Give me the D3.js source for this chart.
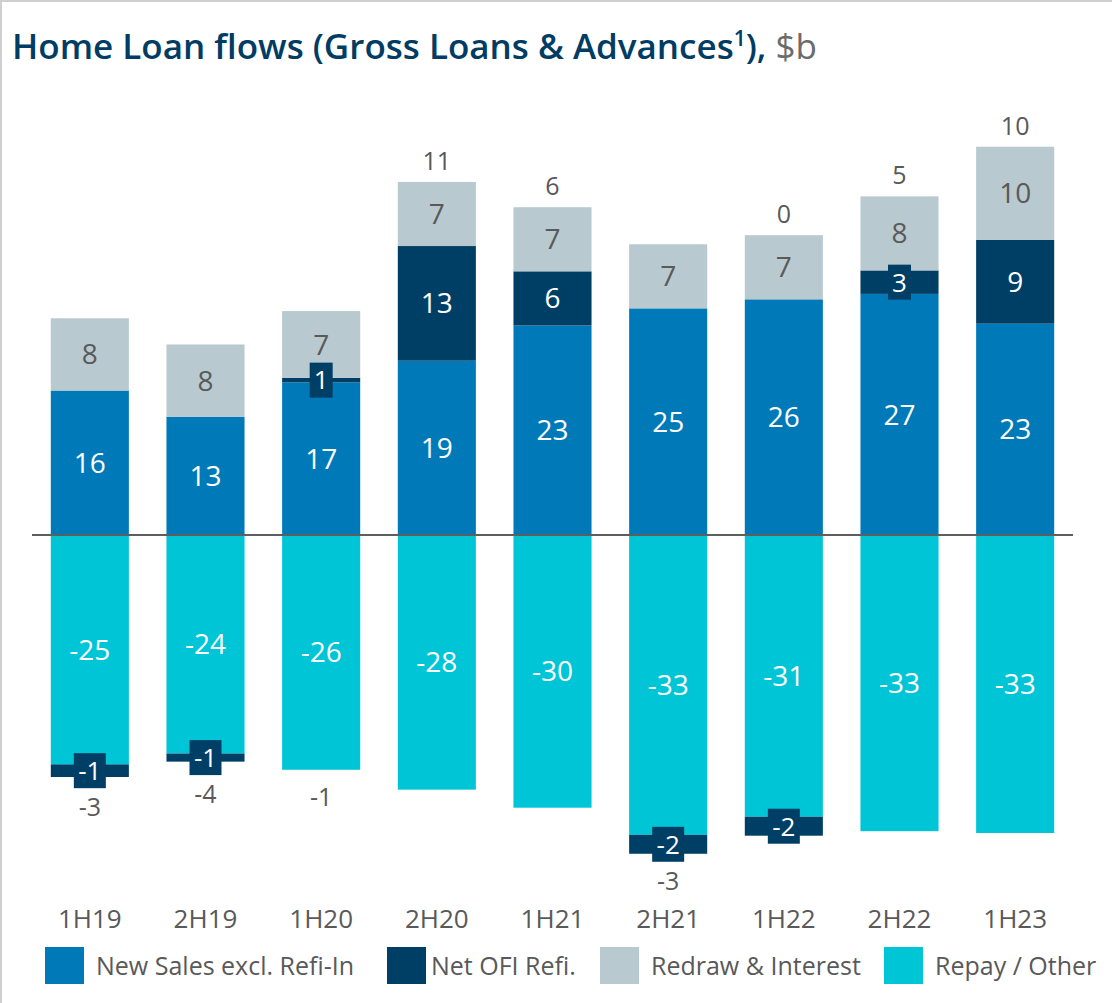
<!DOCTYPE html>
<html>
<head>
<meta charset="utf-8">
<script src="https://cdn.jsdelivr.net/npm/d3@7"></script>
<style>
  html, body { margin: 0; padding: 0; background: #fff; }
  svg { display: block; font-family: "Open Sans", "Noto Sans", sans-serif; }
</style>
</head>
<body>
<div class="canvas"></div>
<script>
// data ($b)
const periods = ['1H19', '2H19', '1H20', '2H20', '1H21', '2H21', '1H22', '2H22', '1H23'];
const newSales = [16.0, 13.1, 16.9, 19.3, 23.2, 25.1, 26.1, 26.7, 23.4];
const netOfiRefi = [-1.4, -0.9, 0.5, 12.7, 6.0, -2.1, -2.1, 2.6, 9.3];
const redrawInterest = [8.0, 8.0, 7.4, 7.1, 7.1, 7.1, 7.1, 8.2, 10.3];
const repayOther = [-25.4, -24.2, -26.0, -28.2, -30.2, -33.2, -31.2, -32.8, -33.0];
const legendLabels = ['New Sales excl. Refi-In', 'Net OFI Refi.', 'Redraw & Interest', 'Repay / Other'];

const colours = {
  newSales: '#0079b9',
  ofi: '#003f65',
  redraw: '#b9c9d0',
  repay: '#00c5d7'
};
const grey = '#595959';

const width = 1112, height = 1003;

// select the svg container first
const svg = d3.select('.canvas')
  .append('svg')
    .attr('width', width)
    .attr('height', height);

// light frame at top and left like the slide crop
svg.append('line').attr('x1', 0).attr('x2', width).attr('y1', 1).attr('y2', 1)
  .attr('stroke', '#cfcfcf').attr('stroke-width', 2);
svg.append('line').attr('x1', 1).attr('x2', 1).attr('y1', 0).attr('y2', height)
  .attr('stroke', '#cfcfcf').attr('stroke-width', 2);

// title
const title = svg.append('text')
  .attr('x', 12)
  .attr('y', 59)
  .attr('font-size', 35)
  .attr('font-weight', 600)
  .attr('fill', '#003c63');
title.append('tspan').text('Home Loan flows (Gross Loans & Advances');
title.append('tspan').attr('font-size', 21).attr('dy', -13).text('1');
title.append('tspan').attr('dy', 13).text('),');
title.append('tspan').attr('font-weight', 400).attr('fill', '#6b6b6b').text(' $b');

// table for the stack
const rows = periods.map((p, i) => ({
  period: p,
  newSales: newSales[i],
  repay: repayOther[i],
  ofi: netOfiRefi[i],
  redraw: redrawInterest[i]
}));

// repay sits next to zero below, so it goes before ofi in the key order
const keys = ['newSales', 'repay', 'ofi', 'redraw'];
const series = d3.stack()
  .keys(keys)
  .offset(d3.stackOffsetDiverging)(rows);

// scales
const x = d3.scaleBand()
  .domain(periods)
  .range([32, 1073])
  .paddingInner(0.325)
  .paddingOuter(0.1625);

const pxPerUnit = 9.03;
const y = d3.scaleLinear()
  .domain([-40, 45])
  .range([535 + 40 * pxPerUnit, 535 - 45 * pxPerUnit]);

const graph = svg.append('g');

// bars
const layers = graph.selectAll('g.layer')
  .data(series)
  .enter()
  .append('g')
    .attr('class', 'layer')
    .attr('fill', d => colours[d.key]);

layers.selectAll('rect')
  .data(d => d.map(v => ({ key: d.key, lo: v[0], hi: v[1], period: v.data.period, value: v.data[d.key] })))
  .enter()
  .append('rect')
    .attr('x', d => x(d.period))
    .attr('width', x.bandwidth())
    .attr('y', d => y(Math.max(d.lo, d.hi)))
    .attr('height', d => Math.abs(y(d.lo) - y(d.hi)));

// zero line on top of bars
svg.append('line')
  .attr('x1', 32).attr('x2', 1073)
  .attr('y1', y(0)).attr('y2', y(0))
  .attr('stroke', '#5e5e5e')
  .attr('stroke-width', 2);

// segment labels
const segs = [];
series.forEach(s => {
  s.forEach(v => {
    const value = v.data[s.key];
    if (value === 0) return;
    segs.push({ key: s.key, period: v.data.period, value, mid: (y(v[0]) + y(v[1])) / 2 });
  });
});

// remember where the small label boxes end so totals can sit below them
const boxBottom = {};
const labels = svg.append('g').attr('text-anchor', 'middle');
segs.forEach(d => {
  const cx = x(d.period) + x.bandwidth() / 2;
  const txt = String(Math.round(d.value));
  const small = Math.abs(d.value) < 3.5;
  if (small) {
    const bw = txt.length > 1 ? 32 : 23;
    labels.append('rect')
      .attr('x', cx - bw / 2)
      .attr('y', d.mid - 17.5)
      .attr('width', bw)
      .attr('height', 35)
      .attr('fill', colours.ofi);
    if (d.value < 0) boxBottom[d.period] = d.mid + 17.5;
  }
  labels.append('text')
    .attr('x', cx)
    .attr('y', d.mid)
    .attr('dy', '0.36em')
    .attr('font-size', small ? 26 : 28)
    .attr('fill', d.key === 'redraw' ? grey : '#fff')
    .text(txt);
});

// net totals above or below each bar
rows.forEach(r => {
  const net = Math.round(r.newSales + r.ofi + r.redraw + r.repay);
  const top = r.newSales + Math.max(r.ofi, 0) + r.redraw;
  const bottom = r.repay + Math.min(r.ofi, 0);
  const cx = x(r.period) + x.bandwidth() / 2;
  let ty;
  if (net >= 0) {
    ty = y(top) - 12;
  } else {
    ty = y(bottom) + 36;
    if (boxBottom[r.period]) ty = Math.max(ty, boxBottom[r.period] + 28);
  }
  labels.append('text')
    .attr('x', cx)
    .attr('y', ty)
    .attr('font-size', 25)
    .attr('fill', grey)
    .text(String(net).replace('-0', '0'));
});

// x axis labels
const xAxis = d3.axisBottom(x).tickSize(0).tickPadding(0);
const xAxisGroup = svg.append('g')
  .attr('transform', 'translate(0, 910)')
  .call(xAxis);
xAxisGroup.select('.domain').remove();
xAxisGroup.selectAll('text')
  .attr('font-size', 26)
  .attr('font-family', '"Open Sans", "Noto Sans", sans-serif')
  .attr('fill', grey);

// legend
const legendX = [45, 387, 600, 884];
const legendColours = [colours.newSales, colours.ofi, colours.redraw, colours.repay];
const legend = svg.append('g').attr('transform', 'translate(0, 947)');
legendLabels.forEach((l, i) => {
  legend.append('rect')
    .attr('x', legendX[i])
    .attr('width', 39)
    .attr('height', 37)
    .attr('fill', legendColours[i]);
  legend.append('text')
    .attr('x', legendX[i] + (i === 1 ? 44 : 51))
    .attr('y', 28)
    .attr('font-size', 25)
    .attr('fill', grey)
    .text(l);
});
</script>
</body>
</html>
